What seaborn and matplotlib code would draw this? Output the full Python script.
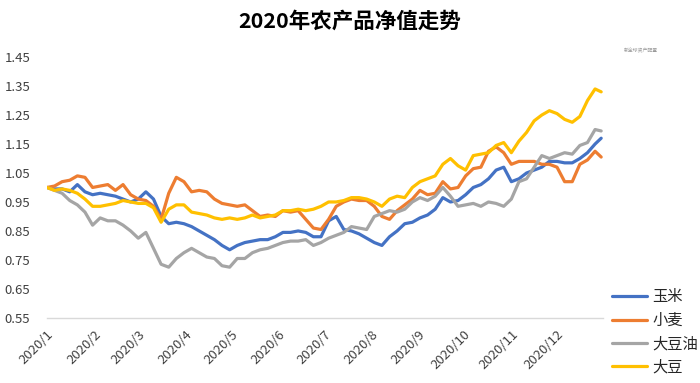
import pandas as pd
import seaborn as sns
import matplotlib.pyplot as plt
import matplotlib.dates as mdates

# 数据：每5天读一次图上的净值
dates = pd.date_range('2020-01-01', periods=73, freq='5D').append(pd.DatetimeIndex(['2020-12-30']))

corn = [1.00, 0.995, 0.995, 0.985, 1.01, 0.985, 0.975, 0.98, 0.975, 0.97,
        0.96, 0.95, 0.96, 0.985, 0.96, 0.90, 0.875, 0.88, 0.875, 0.865,
        0.85, 0.835, 0.82, 0.80, 0.785, 0.80, 0.81, 0.815, 0.82, 0.82,
        0.83, 0.845, 0.845, 0.85, 0.845, 0.83, 0.83, 0.885, 0.90, 0.855,
        0.85, 0.84, 0.825, 0.81, 0.80, 0.83, 0.85, 0.875, 0.88, 0.895,
        0.905, 0.925, 0.965, 0.95, 0.955, 0.975, 1.00, 1.01, 1.03, 1.06,
        1.07, 1.02, 1.03, 1.05, 1.06, 1.07, 1.09, 1.09, 1.085, 1.085,
        1.10, 1.12, 1.15, 1.17]
wheat = [1.00, 1.005, 1.02, 1.025, 1.04, 1.035, 1.00, 1.005, 1.01, 0.99,
         1.01, 0.975, 0.96, 0.955, 0.935, 0.89, 0.98, 1.035, 1.02, 0.985,
         0.99, 0.985, 0.96, 0.945, 0.94, 0.935, 0.94, 0.92, 0.90, 0.905,
         0.90, 0.92, 0.915, 0.92, 0.89, 0.86, 0.855, 0.89, 0.935, 0.95,
         0.96, 0.955, 0.955, 0.935, 0.90, 0.89, 0.92, 0.94, 0.96, 0.99,
         0.975, 0.98, 1.02, 0.995, 1.00, 1.04, 1.065, 1.07, 1.125, 1.14,
         1.12, 1.08, 1.09, 1.09, 1.09, 1.08, 1.08, 1.07, 1.02, 1.02,
         1.08, 1.095, 1.125, 1.105]
soy_oil = [1.00, 0.99, 0.98, 0.955, 0.94, 0.915, 0.87, 0.895, 0.885, 0.885,
           0.87, 0.85, 0.825, 0.845, 0.79, 0.735, 0.725, 0.755, 0.775, 0.79,
           0.775, 0.76, 0.755, 0.73, 0.725, 0.755, 0.755, 0.775, 0.785, 0.79,
           0.80, 0.81, 0.815, 0.815, 0.82, 0.80, 0.81, 0.825, 0.835, 0.845,
           0.865, 0.86, 0.855, 0.90, 0.91, 0.92, 0.915, 0.925, 0.95, 0.965,
           0.955, 0.97, 1.00, 0.97, 0.935, 0.94, 0.945, 0.935, 0.95, 0.945,
           0.935, 0.96, 1.02, 1.03, 1.07, 1.11, 1.10, 1.11, 1.12, 1.115,
           1.145, 1.155, 1.20, 1.195]
soybean = [1.00, 0.99, 0.995, 0.99, 0.98, 0.96, 0.935, 0.935, 0.94, 0.945,
           0.955, 0.95, 0.945, 0.945, 0.93, 0.88, 0.925, 0.94, 0.94, 0.915,
           0.91, 0.905, 0.895, 0.89, 0.895, 0.89, 0.895, 0.905, 0.895, 0.90,
           0.905, 0.92, 0.92, 0.925, 0.92, 0.925, 0.935, 0.95, 0.95, 0.955,
           0.965, 0.965, 0.96, 0.95, 0.935, 0.96, 0.97, 0.965, 1.00, 1.02,
           1.03, 1.04, 1.08, 1.10, 1.075, 1.06, 1.11, 1.115, 1.12, 1.145,
           1.155, 1.12, 1.16, 1.19, 1.23, 1.25, 1.265, 1.255, 1.235, 1.225,
           1.245, 1.30, 1.34, 1.33]

names = ['玉米', '小麦', '大豆油', '大豆']
colors = ['#4472C4', '#ED7D31', '#A5A5A5', '#FFC000']
yticks = [0.55, 0.65, 0.75, 0.85, 0.95, 1.05, 1.15, 1.25, 1.35, 1.45]

df = pd.DataFrame({'date': dates, '玉米': corn, '小麦': wheat,
                   '大豆油': soy_oil, '大豆': soybean})
long_df = df.melt(id_vars='date', var_name='品种', value_name='净值')

sns.set_style('white')
plt.rcParams['font.family'] = ['Noto Sans CJK SC', 'DejaVu Sans']

fig = plt.figure(figsize=(7, 3.83), dpi=100)
ax = fig.add_axes([0.067, 0.170, 0.794, 0.681])

sns.lineplot(data=long_df, x='date', y='净值', hue='品种', hue_order=names,
             palette=colors, linewidth=2.3, ax=ax, legend=True)

ax.set_xlim(pd.Timestamp('2020-01-01'), pd.Timestamp('2020-12-31'))
ax.set_ylim(0.55, 1.45)
ax.set_yticks(yticks)
ax.set_yticklabels([f'{v:.2f}' for v in yticks], fontsize=9.5, color='#404040')
ax.xaxis.set_major_locator(mdates.MonthLocator())
ax.xaxis.set_major_formatter(mdates.DateFormatter('%Y/%-m'))
for lab in ax.get_xticklabels():
    lab.set_rotation(45)
    lab.set_ha('right')
    lab.set_rotation_mode('anchor')
    lab.set_fontsize(9.5)
    lab.set_color('#404040')
ax.tick_params(axis='x', length=5, color='#D9D9D9', width=1, pad=2)
ax.tick_params(axis='y', length=0, pad=12)
ax.set_xlabel('')
ax.set_ylabel('')
for s in ['top', 'right', 'left']:
    ax.spines[s].set_visible(False)
ax.spines['bottom'].set_color('#D9D9D9')
ax.spines['bottom'].set_linewidth(1)

# 图例放在右下角、坐标区外
handles, labels = ax.get_legend_handles_labels()
ax.legend_.remove()
fig.legend(handles, labels, loc='lower left', bbox_to_anchor=(0.866, 0.003),
           frameon=False, fontsize=11, handlelength=2.3, handletextpad=0.3,
           labelspacing=0.42, borderaxespad=0)

fig.text(0.5, 0.945, '2020年农产品净值走势', ha='center', va='center',
         fontsize=15.5, fontweight='bold', color='#000000')
fig.text(0.915, 0.868, '新全球资产配置', ha='center', va='center',
         fontsize=3.5, color='#999999')

fig.savefig('out.png', dpi=100)
